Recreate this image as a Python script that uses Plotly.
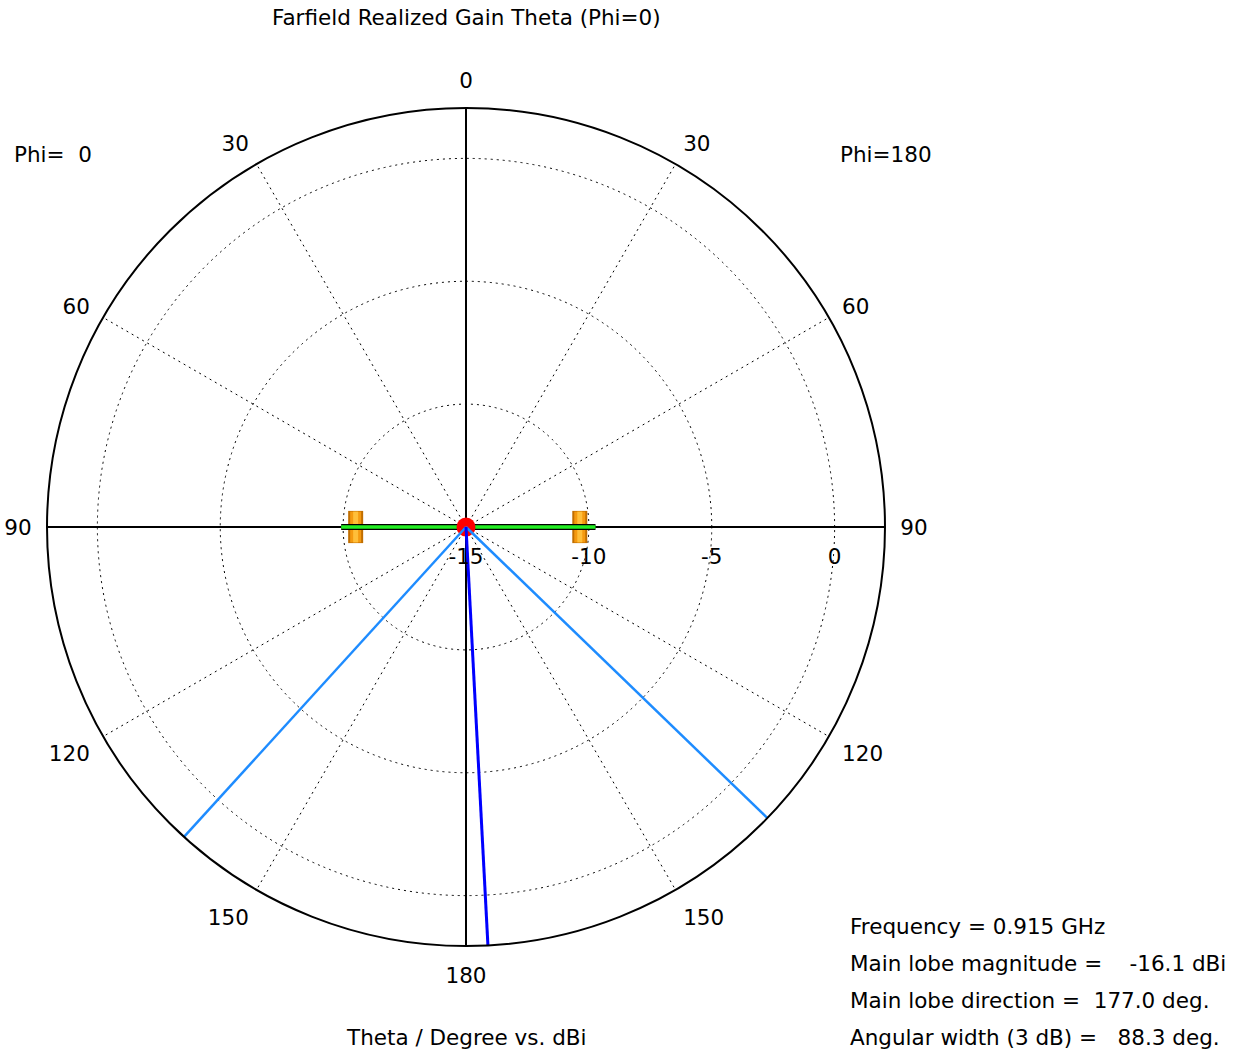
import plotly.graph_objects as go

# ---- data ----
R_MIN = -15.0
R_MAX = 2.05
tick_angles = [0, 30, 60, 90, 120, 150, 180, 210, 240, 270, 300, 330]
tick_labels = ["0", "30", "60", "90", "120", "150", "180", "150", "120", "90", "60", "30"]
radial_ticks = [-15, -10, -5, 0]

gain_theta = [0, 90, 180, 270, 360]
gain_db = [-15.0, -9.73, -15.0, -9.92, -15.0]

marker_theta = [90, 270]
marker_db = [-10.37, -10.51]

main_lobe_dir = 177.0
main_lobe_mag = -16.1
beam_edges = [134.0, 222.3]

info_lines = [
    "Frequency = 0.915 GHz",
    "Main lobe magnitude =\u00a0\u00a0\u00a0\u00a0-16.1 dBi",
    "Main lobe direction =\u00a0\u00a0177.0 deg.",
    "Angular width (3 dB) =\u00a0\u00a0\u00a088.3 deg.",
]

FONT = "DejaVu Sans"
FS = 21.5
W, H = 1243, 1055
DOT = "2px,4px"

fig = go.Figure()

# solid axis lines through the center
fig.add_trace(go.Scatterpolar(theta=[0, 180], r=[R_MAX, R_MAX], mode="lines",
                              line=dict(color="black", width=2), hoverinfo="skip"))
fig.add_trace(go.Scatterpolar(theta=[90, 270], r=[R_MAX, R_MAX], mode="lines",
                              line=dict(color="black", width=2), hoverinfo="skip"))

# orange markers (line-ns length = 1.4 * size)
fig.add_trace(go.Scatterpolar(theta=marker_theta, r=marker_db, mode="markers",
                              marker=dict(symbol="line-ns", size=23, color="#c06e00",
                                          line=dict(color="#c06e00", width=15)),
                              hoverinfo="skip"))
fig.add_trace(go.Scatterpolar(theta=marker_theta, r=marker_db, mode="markers",
                              marker=dict(symbol="line-ns", size=22, color="#f59a10",
                                          line=dict(color="#f59a10", width=11)),
                              hoverinfo="skip"))
fig.add_trace(go.Scatterpolar(theta=marker_theta, r=marker_db, mode="markers",
                              marker=dict(symbol="line-ns", size=22, color="#ffbf3a",
                                          line=dict(color="#ffbf3a", width=5)),
                              hoverinfo="skip"))

# gain curve (black outline + green)
fig.add_trace(go.Scatterpolar(theta=gain_theta, r=gain_db, mode="lines",
                              line=dict(color="black", width=6), hoverinfo="skip"))
fig.add_trace(go.Scatterpolar(theta=gain_theta, r=gain_db, mode="lines",
                              line=dict(color="#22ee22", width=3.5)))

# main lobe magnitude dot (clipped to center)
fig.add_trace(go.Scatterpolar(theta=[main_lobe_dir], r=[max(main_lobe_mag, R_MIN)],
                              mode="markers", marker=dict(color="red", size=19)))

# 3 dB beam edges
for a in beam_edges:
    fig.add_trace(go.Scatterpolar(theta=[a, a], r=[R_MIN, R_MAX], mode="lines",
                                  line=dict(color="#1e8cff", width=2.5), hoverinfo="skip"))
# main lobe direction
fig.add_trace(go.Scatterpolar(theta=[main_lobe_dir, main_lobe_dir], r=[R_MIN, R_MAX],
                              mode="lines", line=dict(color="#0000ff", width=3),
                              hoverinfo="skip"))

cx, cy, rad = 466, 527, 419
fig.update_layout(
    width=W, height=H,
    margin=dict(l=0, r=0, t=0, b=0),
    paper_bgcolor="white",
    showlegend=False,
    font=dict(family=FONT, size=FS, color="black"),
    polar=dict(
        domain=dict(x=[(cx - rad) / W, (cx + rad) / W],
                    y=[1 - (cy + rad) / H, 1 - (cy - rad) / H]),
        bgcolor="white",
        angularaxis=dict(
            rotation=90, direction="clockwise",
            tickmode="array", tickvals=tick_angles, ticktext=tick_labels,
            showline=True, linecolor="black", linewidth=2,
            showgrid=True, gridcolor="black", griddash=DOT, gridwidth=1,
            ticks="outside", ticklen=10, tickcolor="rgba(0,0,0,0)",
            tickfont=dict(family=FONT, size=FS, color="black"),
        ),
        radialaxis=dict(
            range=[R_MIN, R_MAX], angle=0,
            tickmode="array", tickvals=radial_ticks,
            ticktext=[str(v) for v in radial_ticks],
            showline=False, showgrid=True, gridcolor="black", griddash=DOT, gridwidth=1,
            ticks="outside", ticklen=11, tickcolor="rgba(0,0,0,0)",
            tickfont=dict(family=FONT, size=FS, color="black"),
        ),
    ),
)

ann = []
def add_text(text, x, y, xanchor):
    ann.append(dict(text=text, x=x / W, y=1 - y / H, xref="paper", yref="paper",
                    xanchor=xanchor, yanchor="middle", showarrow=False,
                    font=dict(family=FONT, size=FS, color="black")))

add_text("Farfield Realized Gain Theta (Phi=0)", 466, 18, "center")
add_text("Phi=\u00a0\u00a00", 12, 155, "left")
add_text("Phi=180", 838, 155, "left")
add_text("Theta / Degree vs. dBi", 466, 1037, "center")
for i, line in enumerate(info_lines):
    add_text(line, 848, 926 + 37 * i, "left")
fig.update_layout(annotations=ann)

fig.write_html("out.html",
               config={"displayModeBar": False},
               post_script="document.body.style.margin='0px';"
                           "document.body.style.overflow='hidden';")
